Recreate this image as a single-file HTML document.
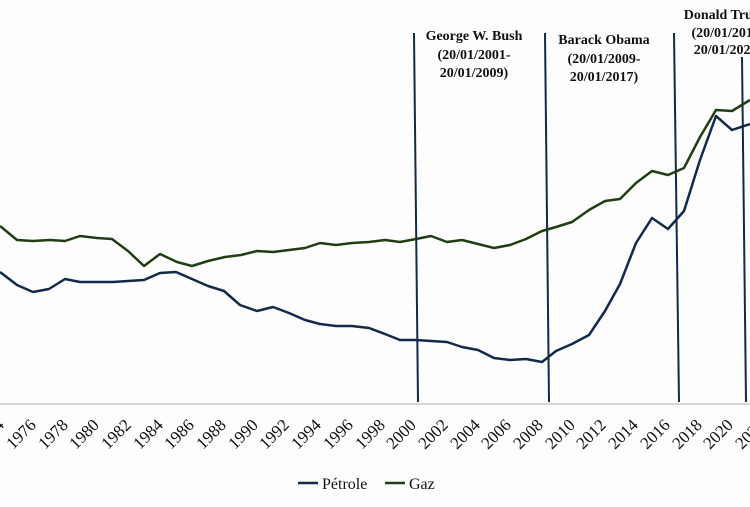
<!DOCTYPE html>
<html><head><meta charset="utf-8"><style>
html,body{margin:0;padding:0;background:#fdfdfd;width:750px;height:507px;overflow:hidden}
svg{display:block}
text{font-family:"Liberation Serif",serif;fill:#111}
</style></head><body>
<svg width="750" height="507" viewBox="0 0 750 507">
<rect width="750" height="507" fill="#fdfdfd"/>
<line x1="0" y1="404" x2="750" y2="404" stroke="#c8c8c8" stroke-width="1.5"/>
<g stroke="#13294a" stroke-width="2">
<line x1="414" y1="33" x2="418" y2="402"/>
<line x1="545" y1="33" x2="549" y2="402"/>
<line x1="674" y1="33" x2="679" y2="402"/>
<line x1="742" y1="57" x2="746" y2="402"/>
</g>
<g font-size="14" font-weight="bold" text-anchor="middle">
<text x="474" y="40">George W. Bush</text>
<text x="474" y="59">(20/01/2001-</text>
<text x="474" y="77">20/01/2009)</text>
<text x="604" y="44">Barack Obama</text>
<text x="604" y="63">(20/01/2009-</text>
<text x="604" y="81">20/01/2017)</text>
<text x="728" y="19">Donald Trump</text>
<text x="728" y="37">(20/01/2017-</text>
<text x="728" y="54">20/01/2021)</text>
</g>
<polyline fill="none" stroke="#203d14" stroke-width="2.5" stroke-linejoin="round" points="0,226 17,240 33,241 50,240 65,241 80,236 97,238 112,239 128,251 144,266 160,254 177,262 192,266 208,261 225,257 241,255 257,251 273,252 289,250 305,248 320,243 336,245 352,243 369,242 385,240 400,242 416,239 431,236 447,242 462,240 478,244 494,248 510,245 526,239 542,231 556,227 572,222 589,210 605,201 620,199 636,183 652,171 668,175 684,168 700,137 716,110 732,111 750,100"/>
<polyline fill="none" stroke="#13294a" stroke-width="2.5" stroke-linejoin="round" points="0,272 17,285 33,292 49,289 65,279 80,282 97,282 113,282 128,281 144,280 160,273 176,272 192,279 208,286 224,291 240,305 257,311 273,307 289,313 305,320 320,324 336,326 352,326 369,328 385,334 400,340 416,340 431,341 447,342 462,347 478,350 494,358 510,360 526,359 542,362 556,351 572,344 589,335 605,311 620,284 636,243 652,218 668,229 684,211 700,160 716,116 732,130 750,124"/>
<line x1="298" y1="483" x2="318" y2="483" stroke="#13294a" stroke-width="2.5"/>
<text x="322" y="489" font-size="16">Pétrole</text>
<line x1="385" y1="483" x2="405" y2="483" stroke="#203d14" stroke-width="2.5"/>
<text x="409" y="489" font-size="16">Gaz</text>
<g font-size="17" text-anchor="end">
<text transform="translate(5,426) rotate(-45)">1974</text>
<text transform="translate(37,426) rotate(-45)">1976</text>
<text transform="translate(69,426) rotate(-45)">1978</text>
<text transform="translate(100,426) rotate(-45)">1980</text>
<text transform="translate(132,426) rotate(-45)">1982</text>
<text transform="translate(164,426) rotate(-45)">1984</text>
<text transform="translate(195,426) rotate(-45)">1986</text>
<text transform="translate(227,426) rotate(-45)">1988</text>
<text transform="translate(259,426) rotate(-45)">1990</text>
<text transform="translate(290,426) rotate(-45)">1992</text>
<text transform="translate(322,426) rotate(-45)">1994</text>
<text transform="translate(354,426) rotate(-45)">1996</text>
<text transform="translate(386,426) rotate(-45)">1998</text>
<text transform="translate(417,426) rotate(-45)">2000</text>
<text transform="translate(449,426) rotate(-45)">2002</text>
<text transform="translate(481,426) rotate(-45)">2004</text>
<text transform="translate(512,426) rotate(-45)">2006</text>
<text transform="translate(544,426) rotate(-45)">2008</text>
<text transform="translate(576,426) rotate(-45)">2010</text>
<text transform="translate(607,426) rotate(-45)">2012</text>
<text transform="translate(639,426) rotate(-45)">2014</text>
<text transform="translate(671,426) rotate(-45)">2016</text>
<text transform="translate(703,426) rotate(-45)">2018</text>
<text transform="translate(734,426) rotate(-45)">2020</text>
<text transform="translate(766,426) rotate(-45)">2022</text>
</g>
</svg>
</body></html>
